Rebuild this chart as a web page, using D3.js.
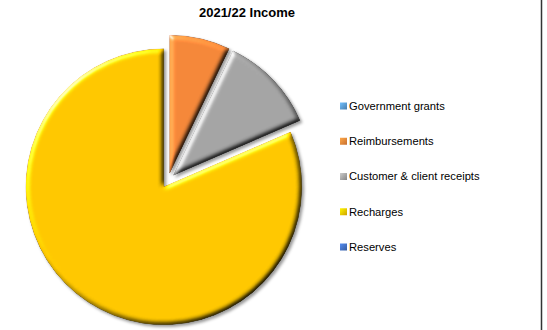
<!DOCTYPE html>
<html>
<head>
<meta charset="utf-8">
<script src="https://cdn.jsdelivr.net/npm/d3@7"></script>
<style>
  html, body { margin: 0; padding: 0; background: #fff; }
  svg { display: block; }
</style>
</head>
<body>
<div id="chart"></div>
<script>
// Income sources for 2021/22 (share of total, %)
const categories = ["Government grants", "Reimbursements", "Customer & client receipts", "Recharges", "Reserves"];
const values = [0, 7.1, 11.4, 81.5, 0];
const colors = ["#5B9BD5", "#F5883A", "#A5A5A5", "#FFC800", "#4472C4"];
const title = "2021/22 Income";

const width = 547, height = 330;
const cx = 168, cy = 180.5, radius = 138, explode = 7.5;

const svg = d3.select("#chart").append("svg")
  .attr("width", width).attr("height", height);

const defs = svg.append("defs");

// Bevelled edges (lit from the top-left) plus a soft drop shadow
const f = defs.append("filter").attr("id", "bevel")
  .attr("x", "-10%").attr("y", "-10%").attr("width", "125%").attr("height", "125%")
  .attr("color-interpolation-filters", "sRGB");
f.append("feGaussianBlur").attr("in", "SourceAlpha").attr("stdDeviation", 2.4).attr("result", "blur");
const diff = f.append("feDiffuseLighting").attr("in", "blur")
  .attr("surfaceScale", 2.6).attr("diffuseConstant", 1)
  .attr("lighting-color", "#fff").attr("result", "diff");
diff.append("feDistantLight").attr("azimuth", 225).attr("elevation", 45);
f.append("feComposite").attr("in", "SourceGraphic").attr("in2", "diff")
  .attr("operator", "arithmetic").attr("k1", 1.414).attr("k2", 0).attr("k3", 0).attr("k4", 0)
  .attr("result", "lit");
f.append("feComposite").attr("in", "lit").attr("in2", "SourceAlpha").attr("operator", "in").attr("result", "litIn");
const spec = f.append("feSpecularLighting").attr("in", "blur")
  .attr("surfaceScale", 2.6).attr("specularConstant", 0.7).attr("specularExponent", 30)
  .attr("lighting-color", "#fff").attr("result", "spec");
spec.append("feDistantLight").attr("azimuth", 225).attr("elevation", 25);
f.append("feComposite").attr("in", "spec").attr("in2", "SourceAlpha").attr("operator", "in").attr("result", "specIn");
f.append("feOffset").attr("in", "SourceAlpha").attr("dx", 1.5).attr("dy", 2).attr("result", "off");
f.append("feGaussianBlur").attr("in", "off").attr("stdDeviation", 1.5).attr("result", "offBlur");
f.append("feFlood").attr("flood-color", "#000").attr("flood-opacity", 0.4).attr("result", "flood");
f.append("feComposite").attr("in", "flood").attr("in2", "offBlur").attr("operator", "in").attr("result", "shadow");
const merge = f.append("feMerge");
merge.append("feMergeNode").attr("in", "shadow");
merge.append("feMergeNode").attr("in", "litIn");
merge.append("feMergeNode").attr("in", "specIn");

// Legend marker gradients
colors.forEach((c, i) => {
  const g = defs.append("linearGradient").attr("id", "lg" + i)
    .attr("x1", 0).attr("y1", 0).attr("x2", 1).attr("y2", 1);
  g.append("stop").attr("offset", "0%").attr("stop-color", d3.color(c).brighter(0.6));
  g.append("stop").attr("offset", "100%").attr("stop-color", d3.color(c).darker(0.6));
});

// Title
svg.append("text")
  .attr("x", 247).attr("y", 17)
  .attr("text-anchor", "middle")
  .attr("font-family", "Liberation Sans, Arial, sans-serif")
  .attr("font-weight", "bold").attr("font-size", 13)
  .attr("fill", "#000")
  .text(title);

// Pie
const pie = d3.pie().sort(null).value(d => d.value);
const arc = d3.arc().innerRadius(0).outerRadius(radius);
const data = categories.map((c, i) => ({ name: c, value: values[i], color: colors[i] }));
const arcs = pie(data).filter(d => d.value > 0);

const pieG = svg.append("g").attr("transform", `translate(${cx},${cy})`);
pieG.selectAll("path.slice")
  .data(arcs)
  .join("path")
  .attr("class", "slice")
  .attr("transform", d => {
    const mid = (d.startAngle + d.endAngle) / 2;
    return `translate(${explode * Math.sin(mid)},${-explode * Math.cos(mid)})`;
  })
  .attr("d", arc)
  .attr("fill", d => d.data.color)
  .attr("stroke", d => d3.color(d.data.color).darker(0.4))
  .attr("stroke-width", 0.5)
  .attr("filter", "url(#bevel)");

// Legend
const legendY = d3.scalePoint().domain(categories).range([106, 247]);
const legend = svg.append("g");
const items = legend.selectAll("g.item")
  .data(data)
  .join("g")
  .attr("class", "item")
  .attr("transform", d => `translate(340,${legendY(d.name)})`);
items.append("rect")
  .attr("x", 0).attr("y", -3.5).attr("width", 7).attr("height", 7)
  .attr("fill", (d, i) => `url(#lg${i})`);
items.append("text")
  .attr("x", 9).attr("y", 0).attr("dy", "0.35em")
  .attr("font-family", "Liberation Sans, Arial, sans-serif")
  .attr("font-size", 11.2).attr("fill", "#000")
  .text(d => d.name);

// Chart frame edge
svg.append("line")
  .attr("x1", 541.5).attr("x2", 541.5).attr("y1", 0).attr("y2", height)
  .attr("stroke", "#333").attr("stroke-width", 1.5);
</script>
</body>
</html>
